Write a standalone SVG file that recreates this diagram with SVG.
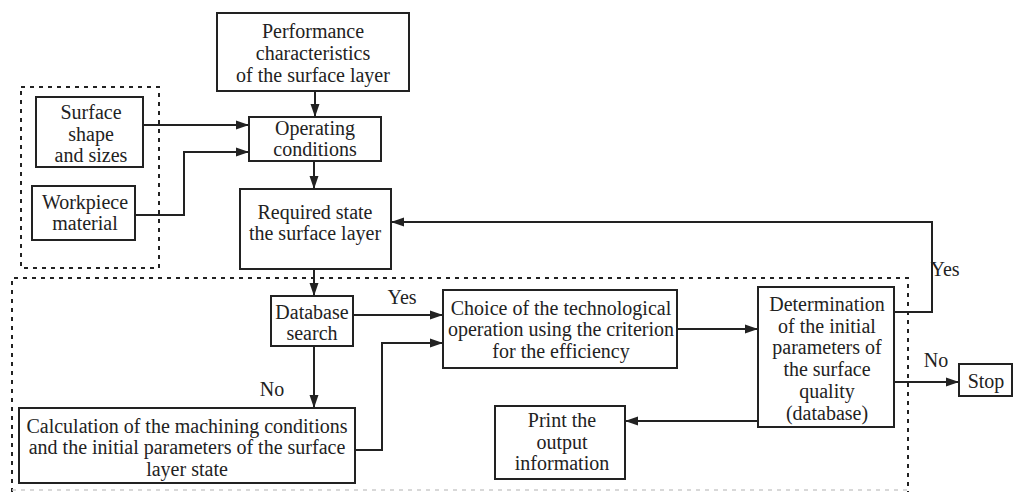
<svg xmlns="http://www.w3.org/2000/svg" width="1015" height="492" viewBox="0 0 1015 492">
<style>
.box{fill:#fff;stroke:#222;stroke-width:2}
.dot{fill:none;stroke:#222;stroke-width:2;stroke-dasharray:4 5}
.dotf{fill:none;stroke:#ccc;stroke-width:1.5;stroke-dasharray:4 5}
.ln{fill:none;stroke:#222;stroke-width:2;marker-end:url(#ah)}
text{font-family:'Liberation Serif','Tinos','Times New Roman','DejaVu Serif',serif;font-size:20px;fill:#222;text-anchor:middle}
</style>
<defs>
<marker id="ah" markerWidth="14" markerHeight="10" refX="13" refY="5" orient="auto" markerUnits="userSpaceOnUse">
<path d="M0,0.5 L13,5 L0,9.5 Z" fill="#222"/>
</marker>
</defs>
<rect width="1015" height="492" fill="#fff"/>
<g id="groups">
<rect class="dot" x="21" y="87" width="138" height="181"/>
<path class="dot" d="M12,492 V278 H908 V492"/>
<path class="dotf" d="M12,490 H908"/>
</g>
<g id="connectors" font-family="Liberation Serif, serif">
<path class="ln" d="M143,125 H249"/>
<path class="ln" d="M135,215 H184 V152 H249"/>
<path class="ln" d="M315,91 V117"/>
<path class="ln" d="M314,161 V189"/>
<path class="ln" d="M314,269 V296"/>
<path class="ln" d="M353,315 H443"/>
<path class="ln" d="M314,346 V408"/>
<path class="ln" d="M355,450 H382 V343 H443"/>
<path class="ln" d="M677,329 H758"/>
<path class="ln" d="M758,421 H625"/>
<path class="ln" d="M894,312 H932 V222 H391"/>
<path class="ln" d="M894,382 H959"/>
<text x="402" y="304">Yes</text>
<text x="272" y="396">No</text>
<text x="945" y="276">Yes</text>
<text x="936" y="367">No</text>
</g>
<g id="performance">
<rect class="box" x="217" y="13" width="192" height="78"/>
<text x="313" y="38">Performance</text>
<text x="313" y="60">characteristics</text>
<text x="313" y="82">of the surface layer</text>
</g>
<g id="surface">
<rect class="box" x="36" y="97" width="107" height="70"/>
<text x="91" y="119">Surface</text>
<text x="91" y="141">shape</text>
<text x="91" y="162">and sizes</text>
</g>
<g id="workpiece">
<rect class="box" x="32" y="186" width="103" height="54"/>
<text x="85" y="209">Workpiece</text>
<text x="85" y="230">material</text>
</g>
<g id="operating">
<rect class="box" x="249" y="117" width="132" height="44"/>
<text x="315" y="135">Operating</text>
<text x="315" y="156">conditions</text>
</g>
<g id="required">
<rect class="box" x="240" y="189" width="151" height="80"/>
<text x="315" y="219">Required state</text>
<text x="315" y="240">the surface layer</text>
</g>
<g id="database">
<rect class="box" x="271" y="296" width="82" height="50"/>
<text x="312" y="319">Database</text>
<text x="312" y="340">search</text>
</g>
<g id="calculation">
<rect class="box" x="19" y="408" width="336" height="75"/>
<text x="187" y="433">Calculation of the machining conditions</text>
<text x="187" y="454">and the initial parameters of the surface</text>
<text x="187" y="476">layer state</text>
</g>
<g id="choice">
<rect class="box" x="443" y="290" width="234" height="78"/>
<text x="561" y="315">Choice of the technological</text>
<text x="561" y="336">operation using the criterion</text>
<text x="561" y="358">for the efficiency</text>
</g>
<g id="print">
<rect class="box" x="495" y="406" width="130" height="73"/>
<text x="562" y="427">Print the</text>
<text x="562" y="449">output</text>
<text x="562" y="470">information</text>
</g>
<g id="determination">
<rect class="box" x="758" y="287" width="136" height="140"/>
<text x="827" y="311">Determination</text>
<text x="827" y="333">of the initial</text>
<text x="827" y="354">parameters of</text>
<text x="827" y="376">the surface</text>
<text x="827" y="398">quality</text>
<text x="827" y="420">(database)</text>
</g>
<g id="stop">
<rect class="box" x="959" y="364" width="53" height="32"/>
<text x="986" y="388">Stop</text>
</g>
</svg>
